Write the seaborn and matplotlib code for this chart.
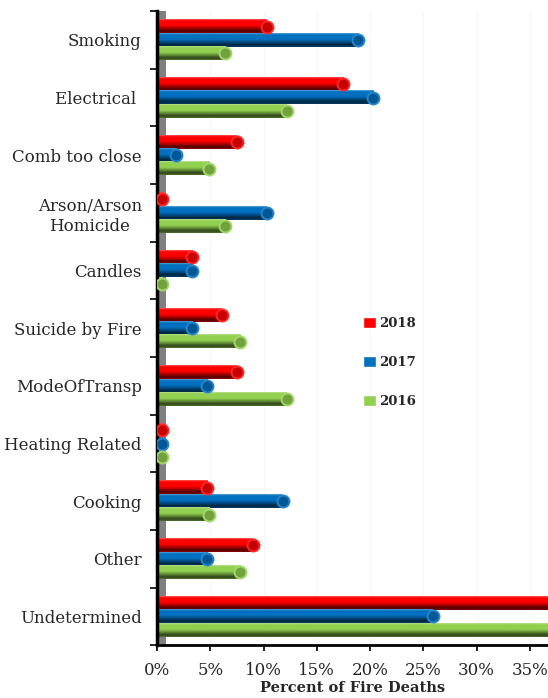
import numpy as np
import pandas as pd
import seaborn as sns
import matplotlib.pyplot as plt
from matplotlib.colors import to_rgb
from matplotlib.patches import Patch
from matplotlib.ticker import FixedLocator, PercentFormatter

causes = [
    "Smoking",
    "Electrical ",
    "Comb too close",
    "Arson/Arson\nHomicide",
    "Candles",
    "Suicide by Fire",
    "ModeOfTransp",
    "Heating Related",
    "Cooking",
    "Other",
    "Undetermined",
]
years = ["2018", "2017", "2016"]
pct_2018 = [10.3, 17.5, 7.5, 0.5, 3.3, 6.1, 7.5, 0.5, 4.7, 9.0, 40.0]
pct_2017 = [18.9, 20.3, 1.8, 10.3, 3.3, 3.3, 4.7, 0.5, 11.8, 4.7, 25.9]
pct_2016 = [6.4, 12.2, 4.9, 6.4, 0.5, 7.8, 12.2, 0.5, 4.9, 7.8, 38.0]
colors = {"2018": "#FF0000", "2017": "#0070C0", "2016": "#92D050"}

df = pd.concat(
    [
        pd.DataFrame({"cause": causes, "year": y, "pct": v})
        for y, v in zip(years, [pct_2018, pct_2017, pct_2016])
    ],
    ignore_index=True,
)


def shade(c, f):
    # f < 1 darkens, f > 1 mixes toward white
    c = np.array(to_rgb(c))
    if f <= 1:
        return tuple(c * f)
    return tuple(c + (1 - c) * (f - 1))


def cylinder_gradient(c, n=64):
    stops = [(0.0, shade(c, 1.35)), (0.12, shade(c, 1.0)), (0.45, shade(c, 1.0)),
             (0.85, shade(c, 0.32)), (1.0, shade(c, 0.55))]
    t = np.linspace(0, 1, n)
    pos = [s[0] for s in stops]
    rgb = np.array([[np.interp(ti, pos, [s[1][k] for s in stops]) for k in range(3)] for ti in t])
    return rgb.reshape(n, 1, 3)


sns.set_theme(style="white")
plt.rcParams["font.family"] = ["DejaVu Serif"]

fig = plt.figure(figsize=(5.48, 6.98), dpi=100)
ax = fig.add_axes([0.2865, 0.0755, 0.7135, 0.9085])

sns.barplot(
    data=df, x="pct", y="cause", hue="year", order=causes, hue_order=years,
    palette=colors, orient="h", width=0.7, saturation=1, edgecolor="none",
    legend=False, ax=ax,
)

xlim = (0, 36.7)
ylim = ax.get_ylim()

# gray back wall
ax.axvspan(0, 0.85, color="#808080", zorder=0.5, lw=0)

# cylinder look: gradient body + end cap
for year, cont in zip(years, ax.containers):
    c = colors[year]
    grad = cylinder_gradient(c)
    for rect in cont:
        x0, y0 = rect.get_x(), rect.get_y()
        w, h = rect.get_width(), rect.get_height()
        ax.imshow(grad, extent=(x0, x0 + w, y0 + h, y0), origin="upper",
                  aspect="auto", zorder=2, interpolation="bilinear")
        ax.plot(x0 + w, y0 + h / 2, "o", ms=8.6, mfc=shade(c, 0.78),
                mec=shade(c, 1.15), mew=1.4, zorder=3)

ax.set_xlim(*xlim)
ax.set_ylim(*ylim)

ax.grid(axis="x", color="#f6f6f6", lw=0.8)
ax.set_axisbelow(True)

ax.xaxis.set_major_locator(FixedLocator(np.arange(0, 36, 5)))
ax.xaxis.set_major_formatter(PercentFormatter(decimals=0))
ax.tick_params(axis="x", direction="out", length=4, width=1.2, color="black",
               labelsize=12, pad=8, bottom=True)
ax.yaxis.set_minor_locator(FixedLocator(np.arange(-0.5, len(causes), 1)))
ax.tick_params(axis="y", which="major", length=0, labelsize=12, pad=11)
ax.tick_params(axis="y", which="minor", direction="out", length=5, width=1.2,
               color="black", left=True)
for lab in ax.get_yticklabels():
    lab.set_multialignment("center")

for s in ["top", "right"]:
    ax.spines[s].set_visible(False)
ax.spines["left"].set_linewidth(2.5)
ax.spines["left"].set_color("black")
ax.spines["bottom"].set_linewidth(2)
ax.spines["bottom"].set_color("black")

ax.set_ylabel("")
ax.set_xlabel("Percent of Fire Deaths", fontweight="bold", fontsize=10.5, labelpad=1.5)

handles = [Patch(facecolor=colors[y], label=y) for y in years]
ax.legend(handles=handles, loc="center left", bbox_to_anchor=(0.527, 0.446),
          frameon=False, prop={"weight": "bold", "size": 9.5},
          handlelength=0.95, handleheight=0.95, labelspacing=1.95,
          handletextpad=0.3, borderpad=0, borderaxespad=0)

fig.savefig("out.png", dpi=100)
